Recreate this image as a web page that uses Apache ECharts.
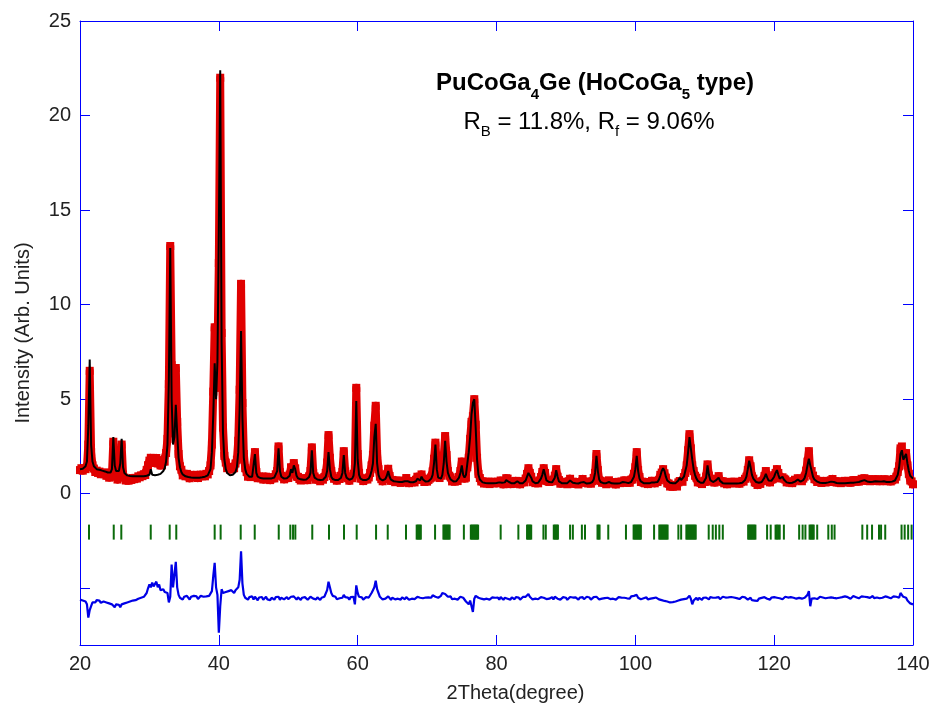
<!DOCTYPE html>
<html><head><meta charset="utf-8">
<script src="https://cdn.jsdelivr.net/npm/echarts@6/dist/echarts.min.js"></script>
<style>html,body{margin:0;padding:0;background:#fff}#c{width:937px;height:713px}</style>
</head><body><div id="c"></div>
<script>
const xStart = 20, xStep = 0.2;
// calculated profile, one row per 2 degrees (10 points at 0.2 deg step)
const calc = [
1.30,1.30,1.32,1.35,1.45,1.70,3.60,7.10,2.60,1.70,
1.45,1.35,1.30,1.28,1.27,1.25,1.22,1.20,1.18,1.15,
1.12,1.10,1.12,1.30,3.00,1.50,1.20,1.15,1.20,1.60,
2.90,1.40,1.10,1.00,0.97,0.95,0.94,0.93,0.93,0.92,
0.92,0.92,0.92,0.92,0.92,0.93,0.93,0.94,0.95,0.96,
1.00,1.30,1.00,0.98,0.98,0.99,1.00,1.02,1.05,1.10,
1.20,1.35,1.70,2.60,6.00,13.0,5.00,2.60,3.00,4.70,
3.20,1.90,1.40,1.15,1.02,0.95,0.92,0.90,0.88,0.87,
0.86,0.86,0.85,0.85,0.85,0.85,0.85,0.86,0.87,0.88,
0.90,0.93,0.97,1.05,1.30,2.20,4.20,6.90,5.00,7.00,
14.0,22.4,8.00,3.20,1.80,1.30,1.10,1.00,0.98,0.97,
1.00,1.05,1.15,1.40,2.20,4.50,8.60,4.00,1.90,1.30,
1.05,0.95,0.90,0.88,0.90,1.00,2.10,1.10,0.90,0.85,
0.83,0.82,0.81,0.80,0.80,0.80,0.80,0.80,0.81,0.83,
0.86,0.95,1.20,2.40,1.20,0.90,0.82,0.80,0.80,0.82,
0.86,0.95,1.30,1.10,1.50,1.30,0.95,0.82,0.78,0.76,
0.75,0.74,0.74,0.75,0.78,0.88,1.10,2.30,1.10,0.85,
0.78,0.75,0.74,0.73,0.73,0.74,0.78,0.90,1.20,2.20,
1.30,0.90,0.78,0.74,0.72,0.72,0.73,0.76,0.85,1.10,
2.05,1.10,0.85,0.76,0.74,0.75,0.80,0.95,1.60,4.90,
1.80,1.00,0.80,0.74,0.72,0.71,0.72,0.75,0.80,0.95,
1.20,1.60,3.00,3.70,1.60,1.00,0.80,0.72,0.70,0.72,
0.78,0.95,1.20,0.90,0.74,0.68,0.66,0.65,0.64,0.63,
0.62,0.62,0.62,0.63,0.66,0.75,0.66,0.62,0.61,0.61,
0.61,0.62,0.66,0.80,0.75,0.70,0.90,0.75,0.66,0.64,
0.64,0.66,0.70,0.80,1.00,1.60,2.60,1.30,0.85,0.75,
0.80,1.00,1.60,2.80,1.70,1.10,0.90,0.75,0.68,0.65,
0.64,0.66,0.72,0.85,1.10,1.50,1.00,0.85,1.00,1.60,
2.20,3.00,4.20,4.80,5.00,3.50,1.80,1.00,0.75,0.65,
0.60,0.58,0.57,0.56,0.56,0.56,0.56,0.56,0.56,0.57,
0.57,0.58,0.60,0.62,0.58,0.56,0.60,0.72,0.80,0.62,
0.56,0.55,0.55,0.56,0.60,0.66,0.58,0.55,0.55,0.56,
0.60,0.70,0.90,1.10,1.00,0.85,0.65,0.58,0.56,0.56,
0.58,0.65,0.80,1.00,1.30,1.00,0.70,0.60,0.62,0.60,
0.60,0.70,0.85,1.25,0.90,0.65,0.58,0.56,0.55,0.55,
0.55,0.56,0.62,0.70,0.62,0.58,0.56,0.55,0.54,0.54,
0.55,0.60,0.70,0.62,0.56,0.54,0.54,0.55,0.58,0.62,
0.75,1.10,2.00,1.20,0.75,0.62,0.58,0.56,0.55,0.56,
0.58,0.62,0.58,0.55,0.54,0.54,0.54,0.54,0.55,0.56,
0.58,0.62,0.65,0.60,0.56,0.56,0.58,0.62,0.70,0.90,
1.30,2.00,1.20,0.80,0.65,0.58,0.56,0.55,0.55,0.55,
0.55,0.56,0.60,0.65,0.60,0.58,0.62,0.75,0.95,1.20,
1.35,1.20,0.90,0.70,0.62,0.58,0.56,0.55,0.55,0.56,
0.60,0.70,0.85,0.72,0.75,0.90,1.20,1.50,2.20,3.00,
2.40,1.80,1.30,1.00,0.80,0.68,0.62,0.58,0.57,0.58,
0.62,0.85,1.50,1.00,0.72,0.64,0.62,0.64,0.70,0.68,
0.85,0.68,0.60,0.56,0.55,0.54,0.54,0.54,0.54,0.54,
0.54,0.54,0.54,0.54,0.54,0.55,0.56,0.58,0.62,0.72,
0.90,1.30,1.75,1.40,1.00,0.80,0.70,0.62,0.58,0.58,
0.58,0.62,0.70,0.85,1.05,0.85,0.70,0.65,0.68,0.75,
0.90,1.10,1.25,1.00,0.80,0.75,0.90,0.75,0.65,0.60,
0.58,0.57,0.57,0.58,0.60,0.64,0.70,0.75,0.68,0.64,
0.66,0.72,0.85,1.10,1.50,1.85,1.50,1.20,0.90,0.75,
0.68,0.64,0.60,0.58,0.57,0.57,0.57,0.57,0.58,0.60,
0.62,0.64,0.66,0.62,0.58,0.57,0.56,0.56,0.56,0.56,
0.56,0.56,0.57,0.57,0.58,0.58,0.58,0.58,0.59,0.60,
0.61,0.62,0.64,0.67,0.70,0.72,0.68,0.65,0.64,0.62,
0.62,0.63,0.64,0.66,0.66,0.65,0.64,0.64,0.66,0.66,
0.64,0.62,0.62,0.62,0.63,0.64,0.66,0.70,0.80,1.00,
1.40,2.10,2.30,1.80,1.70,2.10,1.60,1.20,0.95,0.85,
0.80
];
// observed minus calculated, same grid
const diffRaw = [
-0.05,0.05,-0.10,0.00,-0.15,-0.30,-1.00,-0.60,-0.40,-0.20,
-0.12,-0.20,-0.08,-0.18,-0.10,-0.22,-0.12,-0.15,-0.05,-0.20,
-0.15,-0.25,-0.18,-0.30,-0.25,-0.45,-0.30,-0.40,-0.32,-0.45,
-0.30,-0.38,-0.25,-0.30,-0.20,-0.26,-0.15,-0.20,-0.10,-0.15,
-0.08,-0.12,0.00,-0.05,0.05,0.00,0.10,0.05,0.30,0.55,
0.75,0.60,0.85,0.65,0.70,0.90,0.60,0.75,0.45,0.40,
0.50,0.35,0.45,0.30,-0.20,0.10,1.80,0.60,0.50,1.95,
0.60,0.20,0.05,0.12,-0.05,0.10,0.00,0.15,0.05,-0.05,
0.10,0.02,0.15,0.05,0.12,-0.02,0.08,0.15,0.05,0.10,
0.02,0.12,0.05,0.15,0.20,0.40,1.20,1.90,0.60,0.20,
-1.80,-0.40,0.50,0.30,0.20,0.35,0.25,0.40,0.30,0.45,
0.35,0.30,0.45,0.40,0.60,1.00,2.50,0.80,0.20,0.05,
0.10,-0.05,0.08,0.00,0.12,-0.05,0.10,0.05,-0.08,0.06,
0.00,0.09,-0.06,0.04,0.10,-0.04,0.06,-0.08,0.05,0.02,
-0.05,0.08,0.00,0.10,-0.06,0.05,0.08,-0.04,0.02,0.09,
-0.03,0.06,0.10,0.00,0.12,0.04,-0.05,0.07,0.00,-0.06,
0.05,-0.02,0.08,0.02,-0.06,0.04,0.10,0.15,0.00,0.06,
-0.04,0.07,0.02,-0.07,0.05,0.00,0.10,0.20,0.45,0.90,
0.60,0.30,0.15,0.05,0.10,-0.03,0.06,0.02,0.10,0.05,
0.20,0.08,0.00,0.06,-0.05,0.08,0.02,0.10,-0.30,0.70,
0.30,0.10,0.00,0.07,-0.05,0.04,0.08,0.00,0.06,0.15,
0.30,0.45,0.60,0.95,0.50,0.30,0.10,0.05,-0.04,0.06,
0.00,0.08,0.12,0.04,-0.06,0.05,0.02,-0.04,0.06,0.00,
0.05,-0.05,0.07,0.00,-0.03,0.08,0.02,-0.06,0.04,0.00,
0.06,-0.02,0.08,0.10,0.00,0.05,0.12,0.02,-0.04,0.06,
0.00,0.07,0.10,0.05,0.18,0.25,0.10,0.20,0.05,0.08,
0.15,0.30,0.40,0.25,0.35,0.10,0.05,0.12,-0.03,0.06,
0.00,0.08,-0.05,0.04,0.10,0.20,0.05,-0.05,-0.15,-0.20,
-0.30,-0.10,-0.40,-0.70,0.00,0.15,0.10,0.05,0.08,0.00,
0.05,-0.04,0.06,0.00,0.08,-0.05,0.03,0.07,-0.02,0.05,
0.00,0.06,-0.05,0.08,0.02,-0.06,0.05,0.10,0.00,0.04,
-0.05,0.07,0.02,-0.03,0.08,0.00,0.06,-0.05,0.04,0.09,
0.00,0.10,0.15,0.25,0.10,0.05,-0.04,0.06,0.00,0.07,
-0.03,0.05,0.08,0.15,0.05,0.10,-0.02,0.06,0.00,0.05,
0.08,-0.04,0.10,0.05,0.00,0.07,-0.05,0.04,0.08,0.00,
0.05,-0.06,0.04,0.09,0.00,0.06,-0.04,0.07,0.02,-0.05,
0.06,0.00,0.08,-0.03,0.05,0.10,0.00,0.06,-0.05,0.04,
0.08,0.00,0.10,0.05,-0.04,0.06,0.00,0.08,0.03,-0.06,
0.05,0.09,-0.02,0.06,0.00,0.07,-0.05,0.04,0.08,0.00,
0.06,-0.04,0.05,0.10,0.02,0.08,0.00,0.12,0.05,0.15,
0.10,0.20,0.05,0.08,-0.03,0.06,0.02,0.00,0.07,-0.04,
0.05,0.00,0.08,0.03,-0.05,0.06,0.00,-0.04,0.05,-0.08,
-0.05,-0.12,-0.05,-0.15,-0.08,-0.20,-0.10,-0.18,-0.08,-0.15,
-0.22,-0.10,-0.18,-0.05,-0.12,-0.02,-0.10,0.00,0.10,0.15,
0.00,-0.30,-0.10,-0.05,0.05,-0.08,0.04,0.00,-0.06,0.05,
0.00,0.06,0.05,-0.04,0.08,0.00,0.05,-0.05,0.06,0.02,
0.08,-0.03,0.05,0.10,0.00,0.06,-0.04,0.07,0.02,0.09,
0.00,0.06,0.10,0.03,0.08,-0.02,0.05,0.10,0.02,0.07,
0.00,-0.05,0.02,0.05,-0.08,0.00,-0.10,-0.05,-0.12,0.00,
-0.06,0.04,-0.02,0.08,0.15,0.00,0.05,-0.05,0.06,0.02,
0.08,0.00,0.05,0.10,0.02,0.07,-0.03,0.05,0.10,0.00,
0.06,0.02,0.08,-0.02,0.05,0.10,0.00,0.07,0.04,0.10,
0.00,0.08,0.05,0.12,0.20,0.40,-0.40,0.00,0.06,0.02,
0.08,-0.02,0.05,0.10,0.00,0.06,0.08,0.02,0.10,0.05,
0.00,0.07,0.12,0.04,0.08,0.02,0.10,0.05,0.00,0.08,
0.06,0.12,0.02,0.08,0.10,0.00,0.06,0.14,0.04,0.08,
0.10,0.02,0.07,0.12,0.05,0.10,0.00,0.08,0.12,0.04,
0.08,0.14,0.03,0.10,0.06,0.12,0.02,0.08,0.05,0.10,
0.12,0.04,0.08,0.10,0.02,0.07,0.12,0.05,0.10,0.15,
0.05,0.30,0.20,0.10,0.15,0.05,-0.10,-0.15,-0.25,-0.20,
-0.30
];
const diffOffset = -5.55;
// Bragg reflection positions (2theta)
const reflections = [
21.3,24.86,25.95,30.19,32.92,33.87,39.4,40.26,43.15,45.17,48.63,50.3,50.69,51.02,
53.46,55.87,58.03,59.86,62.65,64.33,66.96,68.5,68.65,68.8,68.95,69.1,71.15,
72.35,72.5,72.65,72.8,72.95,73.1,73.25,75.3,76.3,76.45,76.6,76.75,76.9,77.05,77.2,77.35,
80.6,83.15,84.4,84.55,84.7,84.85,85.0,86.76,87.1,88.25,88.4,88.55,88.7,88.85,
90.6,91.0,92.3,92.75,94.55,94.7,94.85,96.1,98.65,99.75,99.9,100.05,100.2,100.35,100.5,100.65,100.8,
102.7,103.45,103.6,103.75,103.9,104.05,104.2,104.35,104.5,104.65,106.2,106.6,
107.35,107.5,107.65,107.8,107.95,108.1,108.25,108.4,108.55,108.7,
110.57,111.15,111.6,112.1,112.6,116.25,116.4,116.55,116.7,116.85,117.0,117.15,117.3,
118.98,119.5,120.2,120.4,120.6,120.8,121.4,123.6,124.1,124.5,125.1,125.25,125.4,125.55,125.7,
126.2,127.8,128.3,128.7,132.7,133.4,134.1,135.1,135.4,136.0,138.35,138.8,139.3,139.8
];
const reflY = -2.03;
const yTickValues = [-5,0,5,10,15,20,25];
const yLabelValues = [0,5,10,15,20,25];

const xs = calc.map((_, i) => +(xStart + i * xStep).toFixed(1));
const obsData = xs.map((x, i) => [x, +(calc[i] + diffRaw[i]).toFixed(2)]);
const calcData = xs.map((x, i) => [x, calc[i]]);
const diffData = xs.map((x, i) => [x, +(diffRaw[i] + diffOffset).toFixed(2)]);
const reflData = reflections.map(x => [x, reflY]);

const FF = '"Liberation Sans", Arial, sans-serif';
const blue = '#0000ff';
const txt = '#222222';
const red = '#e00000';

function xAxisDef(pos, labels) {
  return {
    type: 'value', position: pos, min: 20, max: 140, interval: 20,
    axisLine: { show: true, onZero: false, lineStyle: { color: blue, width: 1 } },
    axisTick: { show: true, inside: true, length: 10, lineStyle: { color: blue, width: 1 } },
    axisLabel: { show: labels, color: txt, fontSize: 20, fontFamily: FF, margin: 9 },
    splitLine: { show: false },
    name: labels ? '2Theta(degree)' : '',
    nameLocation: 'middle', nameGap: 38,
    nameTextStyle: { color: txt, fontSize: 20, fontFamily: FF, padding: [0, 0, 0, 38] }
  };
}
function yAxisDef(pos, labels) {
  return {
    type: 'value', position: pos, min: -8, max: 25,
    axisLine: { show: true, onZero: false, lineStyle: { color: blue, width: 1 } },
    axisTick: { show: true, inside: true, length: 10, customValues: yTickValues, lineStyle: { color: blue, width: 1 } },
    axisLabel: { show: labels, customValues: yLabelValues, color: txt, fontSize: 20, fontFamily: FF, margin: 9 },
    splitLine: { show: false },
    name: labels ? 'Intensity (Arb. Units)' : '',
    nameLocation: 'middle', nameGap: 47, nameRotate: 90,
    nameTextStyle: { color: txt, fontSize: 20, fontFamily: FF }
  };
}

const chart = echarts.init(document.getElementById('c'), null, { renderer: 'canvas' });
chart.setOption({
  animation: false,
  backgroundColor: '#ffffff',
  grid: { left: 80, right: 24, top: 21, bottom: 68, containLabel: false },
  xAxis: [xAxisDef('bottom', true), xAxisDef('top', false)],
  yAxis: [yAxisDef('left', true), yAxisDef('right', false)],
  series: [
    { name: 'obsTrace', type: 'line', xAxisIndex: 0, yAxisIndex: 0, data: obsData,
      showSymbol: false, silent: true, lineStyle: { color: red, width: 8, join: 'round', cap: 'round' }, z: 1 },
    { name: 'obs', type: 'scatter', xAxisIndex: 0, yAxisIndex: 0, data: obsData,
      symbol: 'rect', symbolSize: 8, itemStyle: { color: red, opacity: 1 }, z: 2 },
    { name: 'calc', type: 'line', xAxisIndex: 0, yAxisIndex: 0, data: calcData,
      showSymbol: false, lineStyle: { color: '#000000', width: 2 }, z: 3 },
    { name: 'diff', type: 'line', xAxisIndex: 0, yAxisIndex: 0, data: diffData,
      showSymbol: false, lineStyle: { color: '#0000e6', width: 2.2 }, z: 3 },
    { name: 'hkl', type: 'scatter', xAxisIndex: 0, yAxisIndex: 0, data: reflData,
      symbol: 'rect', symbolSize: [2, 15], itemStyle: { color: '#0b6b0b', opacity: 1 }, z: 3 }
  ],
  graphic: [
    { type: 'text', x: 595, y: 83, z: 10,
      style: { text: 'PuCoGa{s|4}Ge (HoCoGa{s|5} type)', fill: '#000', fontSize: 24, fontWeight: 'bold', fontFamily: FF,
        align: 'center', verticalAlign: 'middle',
        rich: { s: { fontSize: 15, fontWeight: 'bold', fontFamily: FF, fill: '#000', padding: [24, 0, 0, 0] } } } },
    { type: 'text', x: 589, y: 122, z: 10,
      style: { text: 'R{s|B} = 11.8%, R{s|f} = 9.06%', fill: '#000', fontSize: 24, fontFamily: FF,
        align: 'center', verticalAlign: 'middle',
        rich: { s: { fontSize: 15, fontFamily: FF, fill: '#000', padding: [20, 0, 0, 0] } } } }
  ]
});
</script>
</body></html>
